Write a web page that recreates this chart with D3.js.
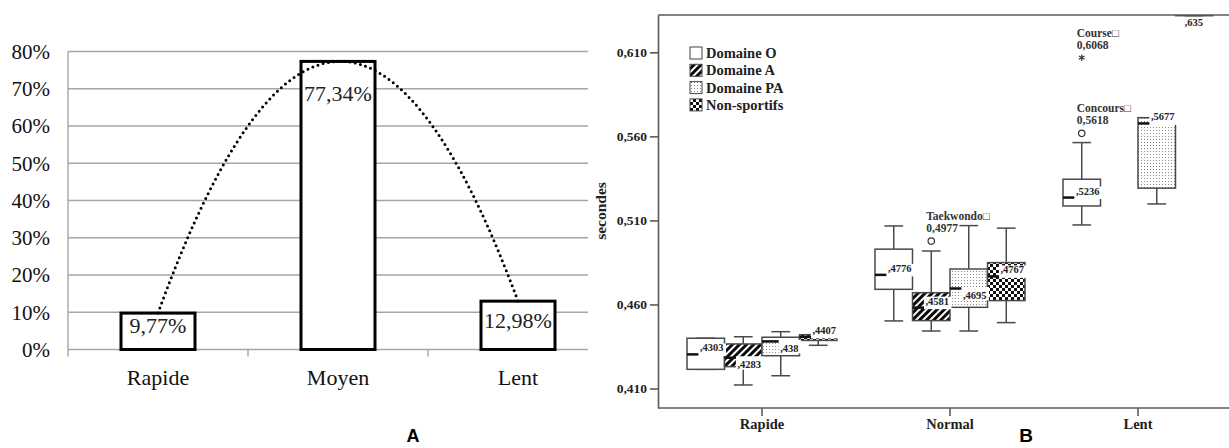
<!DOCTYPE html>
<html><head><meta charset="utf-8">
<script src="https://cdn.jsdelivr.net/npm/d3@7"></script>
<style>body{margin:0;background:#fff} svg{display:block}</style>
</head><body>
<svg id="c" width="1229" height="448"></svg>
<script>
// ---------- Panel A data ----------
const catsA = ["Rapide", "Moyen", "Lent"];
const valuesA = [9.77, 77.34, 12.98];
const valueLabelsA = ["9,77%", "77,34%", "12,98%"];
const ticksA = [0, 10, 20, 30, 40, 50, 60, 70, 80];

// ---------- Panel B data ----------
const catsB = ["Rapide", "Normal", "Lent"];
const seriesB = ["Domaine O", "Domaine A", "Domaine PA", "Non-sportifs"];
const ticksB = [0.410, 0.460, 0.510, 0.560, 0.610];
// per category: [low whisker, Q1, median, Q3, high whisker]
const domO     = [[0.4214, 0.4214, 0.4303, 0.4399, 0.4399], [0.4502, 0.4690, 0.4776, 0.4929, 0.5067], [0.5073, 0.5186, 0.5236, 0.5345, 0.5563]];
const domA     = [[0.4121, 0.4230, 0.4283, 0.4365, 0.4408], [0.4442, 0.4504, 0.4581, 0.4670, 0.4918], null];
const domPA    = [[0.4176, 0.4295, 0.4380, 0.4405, 0.4438], [0.4442, 0.4583, 0.4695, 0.4811, 0.5069], [0.5198, 0.5292, 0.5677, 0.5711, 0.5711]];
const nonSport = [[0.4357, 0.4386, 0.4407, 0.4420, 0.4420], [0.4492, 0.4623, 0.4767, 0.4849, 0.5054], [0.6318, 0.6318, 0.6350, 0.6400, 0.6400]];
const medianLabels = [[",4303", ",4283", ",438", ",4407"], [",4776", ",4581", ",4695", ",4767"], [",5236", null, ",5677", ",635"]];
const outlierCats   = ["Normal", "Lent", "Lent"];
const outlierSeries = ["Domaine A", "Domaine O", "Domaine O"];
const outlierValues = [0.4977, 0.5618, 0.6068];
const outlierNames  = ["Taekwondo\u25a1", "Concours\u25a1", "Course\u25a1"];
const outlierLabels = ["0,4977", "0,5618", "0,6068"];
const outlierKinds  = ["circle", "circle", "star"];

// ---------- layout ----------
const svg = d3.select("#c");
const serif = "Liberation Serif";
const sans = "Liberation Sans";

// ===== Panel A =====
const yA = d3.scaleLinear().domain([0, 80]).range([349.5, 51.5]);
const xA = d3.scaleBand().domain(catsA).range([68, 608]);
const gridEnd = 588;
const gA = svg.append("g");
gA.selectAll("line.grid").data(ticksA).join("line")
  .attr("x1", 68).attr("x2", gridEnd).attr("y1", d => yA(d)).attr("y2", d => yA(d))
  .attr("stroke", "#a6a6a6").attr("stroke-width", 1.4);
gA.append("line").attr("x1", 68).attr("x2", 68).attr("y1", yA(80)).attr("y2", yA(0))
  .attr("stroke", "#a6a6a6").attr("stroke-width", 1.4);
const bounds = catsA.map(c => xA(c)).filter(x => x < gridEnd);
gA.selectAll("line.tk").data(bounds).join("line")
  .attr("x1", d => d).attr("x2", d => d).attr("y1", yA(0)).attr("y2", yA(0) + 7)
  .attr("stroke", "#a6a6a6").attr("stroke-width", 1.4);
gA.selectAll("text.yl").data(ticksA).join("text")
  .attr("x", 50).attr("y", d => yA(d)).attr("dy", "0.35em").attr("text-anchor", "end")
  .attr("font-family", serif).attr("font-size", 21).attr("fill", "#111")
  .text(d => d + "%");
gA.selectAll("text.xl").data(catsA).join("text")
  .attr("x", d => xA(d) + xA.bandwidth() / 2).attr("y", 385).attr("text-anchor", "middle")
  .attr("font-family", serif).attr("font-size", 22).attr("fill", "#111")
  .text(d => d);
const barW = 74;
gA.selectAll("rect.bar").data(valuesA).join("rect")
  .attr("x", (d, i) => xA(catsA[i]) + (xA.bandwidth() - barW) / 2)
  .attr("y", d => yA(d)).attr("width", barW).attr("height", d => yA(0) - yA(d))
  .attr("fill", "#fff").attr("stroke", "#000").attr("stroke-width", 3);
const labelDyA = [20, 40, 27];
gA.selectAll("text.vl").data(valuesA).join("text")
  .attr("x", (d, i) => xA(catsA[i]) + xA.bandwidth() / 2)
  .attr("y", (d, i) => yA(d) + labelDyA[i]).attr("text-anchor", "middle")
  .attr("font-family", serif).attr("font-size", 22).attr("fill", "#222")
  .text((d, i) => valueLabelsA[i]);
// polynomial (order 2) trendline through the bar values
const xs = catsA.map((c, i) => i), ys = valuesA;
function lagrange(t) {
  let s = 0;
  for (let i = 0; i < xs.length; i++) {
    let p = ys[i];
    for (let j = 0; j < xs.length; j++) if (j !== i) p *= (t - xs[j]) / (xs[i] - xs[j]);
    s += p;
  }
  return s;
}
const tSamples = d3.range(0, 2.0001, 0.02);
const cx0 = xA(catsA[0]) + xA.bandwidth() / 2;
const line = d3.line().x(t => cx0 + t * xA.step()).y(t => yA(lagrange(t))).curve(d3.curveLinear);
gA.append("path").attr("d", line(tSamples)).attr("fill", "none")
  .attr("stroke", "#000").attr("stroke-width", 3).attr("stroke-linecap", "round")
  .attr("stroke-dasharray", "0 5.4");
svg.append("text").attr("x", 413).attr("y", 442).attr("text-anchor", "middle")
  .attr("font-family", sans).attr("font-weight", "bold").attr("font-size", 18).text("A");

// ===== Panel B =====
const defs = svg.append("defs");
const hatch = defs.append("pattern").attr("id", "hatch").attr("patternUnits", "userSpaceOnUse")
  .attr("width", 5).attr("height", 5).attr("patternTransform", "rotate(45)");
hatch.append("rect").attr("width", 5).attr("height", 5).attr("fill", "#fff");
hatch.append("rect").attr("width", 3).attr("height", 5).attr("fill", "#0a0a0a");
const dots = defs.append("pattern").attr("id", "dots").attr("patternUnits", "userSpaceOnUse")
  .attr("width", 3).attr("height", 3);
dots.append("rect").attr("width", 3).attr("height", 3).attr("fill", "#fff");
dots.append("rect").attr("x", 1).attr("y", 1).attr("width", 1).attr("height", 1).attr("fill", "#8a8a8a");
const chk = defs.append("pattern").attr("id", "checker").attr("patternUnits", "userSpaceOnUse")
  .attr("width", 6).attr("height", 6);
chk.append("rect").attr("width", 6).attr("height", 6).attr("fill", "#fff");
chk.append("rect").attr("width", 3).attr("height", 3).attr("fill", "#111");
chk.append("rect").attr("x", 3).attr("y", 3).attr("width", 3).attr("height", 3).attr("fill", "#111");
defs.append("clipPath").attr("id", "clipB").append("rect")
  .attr("x", 658).attr("y", 15).attr("width", 580).attr("height", 393);

const fills = ["#fff", "url(#hatch)", "url(#dots)", "url(#checker)"];
const seriesData = [domO, domA, domPA, nonSport];
const labelSide = [["a", "b", "b", "a"], ["a", "a", "b", "a"], ["a", null, "a", "b"]];

const yB = d3.scaleLinear().domain([0.3984, 0.6322]).range([408, 15]);
const xB = d3.scaleBand().domain(catsB).range([668, 1232]);
const xS = d3.scaleBand().domain(seriesB).range([19, xB.bandwidth() - 19]);
const boxStroke = "#4a4a4a";

const gBox = svg.append("g").attr("clip-path", "url(#clipB)");
const gLab = svg.append("g");
const gMed = svg.append("g").attr("clip-path", "url(#clipB)");

catsB.forEach((cat, i) => {
  seriesB.forEach((s, j) => {
    const d = seriesData[j][i];
    if (!d) return;
    const [lo, q1, med, q3, hi] = d;
    const x0 = xB(cat) + xS(s), w = xS.bandwidth(), cx = x0 + w / 2, cw = w * 0.5;
    const g = gBox.append("g").attr("stroke", boxStroke).attr("stroke-width", 1.5);
    g.append("line").attr("x1", cx).attr("x2", cx).attr("y1", yB(hi)).attr("y2", yB(q3));
    g.append("line").attr("x1", cx).attr("x2", cx).attr("y1", yB(q1)).attr("y2", yB(lo));
    g.append("line").attr("x1", cx - cw / 2).attr("x2", cx + cw / 2).attr("y1", yB(hi)).attr("y2", yB(hi));
    g.append("line").attr("x1", cx - cw / 2).attr("x2", cx + cw / 2).attr("y1", yB(lo)).attr("y2", yB(lo));
    g.append("rect").attr("x", x0).attr("y", yB(q3)).attr("width", w).attr("height", Math.max(1, yB(q1) - yB(q3)))
      .attr("fill", fills[j]);
    const lab = medianLabels[i][j];
    const side = labelSide[i][j];
    const ym = yB(med);
    let base = side === "a" ? ym - 3 : ym + 10.5;
    const clamped = base < 26;
    if (clamped) base = 26;
    const tx = clamped ? x0 + w - 10 : x0 + w - 1;
    const t = gLab.append("text").attr("x", tx).attr("y", base).attr("text-anchor", "end")
      .attr("font-family", serif).attr("font-weight", "bold").attr("font-size", 10.5).attr("fill", "#222")
      .text(lab);
    const tw = t.node().getComputedTextLength();
    const left = tx - tw;
    if (!clamped) {
      const ry0 = side === "a" ? ym - 11 : ym - 1.5;
      const ry1 = side === "a" ? ym + 1.5 : ym + 12;
      gLab.insert("rect", () => t.node()).attr("x", left - 1.5).attr("y", ry0)
        .attr("width", tw + 4).attr("height", ry1 - ry0).attr("fill", "#fff");
    }
    gMed.append("line").attr("x1", x0).attr("x2", Math.max(x0 + 4, left - 1.5)).attr("y1", ym).attr("y2", ym)
      .attr("stroke", "#111").attr("stroke-width", 2.5);
  });
});

// outliers
const gOut = svg.append("g");
outlierValues.forEach((v, k) => {
  const cx = xB(outlierCats[k]) + xS(outlierSeries[k]) + xS.bandwidth() / 2;
  const cy = yB(v);
  if (outlierKinds[k] === "circle") {
    gOut.append("circle").attr("cx", cx).attr("cy", cy).attr("r", 3.2)
      .attr("fill", "#fff").attr("stroke", "#333").attr("stroke-width", 1.2);
  } else {
    const r = 3.2;
    const p = d3.path();
    for (let a = 0; a < 3; a++) {
      const ang = Math.PI / 2 + a * Math.PI / 3;
      p.moveTo(cx + r * Math.cos(ang), cy + r * Math.sin(ang));
      p.lineTo(cx - r * Math.cos(ang), cy - r * Math.sin(ang));
    }
    gOut.append("path").attr("d", p.toString()).attr("stroke", "#333").attr("stroke-width", 1.2);
  }
  const lx = cx - 5;
  gOut.append("text").attr("x", lx).attr("y", cy - 21).attr("font-family", serif).attr("font-weight", "bold")
    .attr("font-size", 11.5).attr("fill", "#333").text(outlierNames[k]);
  gOut.append("text").attr("x", lx).attr("y", cy - 9).attr("font-family", serif).attr("font-weight", "bold")
    .attr("font-size", 11.5).attr("fill", "#333").text(outlierLabels[k]);
});

// frame and axes
const frameColor = "#5a5a5a";
const axL = svg.append("g").attr("transform", "translate(658,0)")
  .call(d3.axisLeft(yB).tickValues(ticksB).tickSize(8).tickSizeOuter(0)
    .tickFormat(d => d.toFixed(3).replace(".", ",")));
axL.select(".domain").attr("stroke", frameColor).attr("stroke-width", 1.6);
axL.selectAll(".tick line").attr("stroke", frameColor).attr("stroke-width", 1.6);
axL.selectAll(".tick text").attr("font-family", serif).attr("font-weight", "bold").attr("font-size", 13.5)
  .attr("fill", "#222").attr("x", -11);
svg.append("line").attr("x1", 658).attr("x2", 1229).attr("y1", 15).attr("y2", 15)
  .attr("stroke", frameColor).attr("stroke-width", 1.6);
const axB = svg.append("g").attr("transform", "translate(0,408)")
  .call(d3.axisBottom(xB).tickSize(8).tickSizeOuter(0));
axB.select(".domain").remove();
axB.selectAll(".tick line").attr("stroke", frameColor).attr("stroke-width", 1.6);
axB.selectAll(".tick text").attr("font-family", serif).attr("font-weight", "bold").attr("font-size", 14.5)
  .attr("fill", "#222").attr("y", 11);
svg.append("line").attr("x1", 658).attr("x2", 1229).attr("y1", 408).attr("y2", 408)
  .attr("stroke", frameColor).attr("stroke-width", 1.6);
svg.append("text").attr("transform", "translate(606,211) rotate(-90)").attr("text-anchor", "middle")
  .attr("font-family", serif).attr("font-weight", "bold").attr("font-size", 15.5).attr("fill", "#222")
  .text("secondes");

// legend
const lg = svg.append("g");
seriesB.forEach((s, j) => {
  const cy = 53 + j * 17.3;
  lg.append("rect").attr("x", 690).attr("y", cy - 6).attr("width", 12).attr("height", 12)
    .attr("fill", fills[j]).attr("stroke", "#444").attr("stroke-width", 1);
  lg.append("text").attr("x", 706).attr("y", cy + 5).attr("font-family", serif).attr("font-weight", "bold")
    .attr("font-size", 14.5).attr("fill", "#222").text(s);
});

svg.append("text").attr("x", 1026).attr("y", 442).attr("text-anchor", "middle")
  .attr("font-family", sans).attr("font-weight", "bold").attr("font-size", 19).text("B");
</script>
</body></html>
